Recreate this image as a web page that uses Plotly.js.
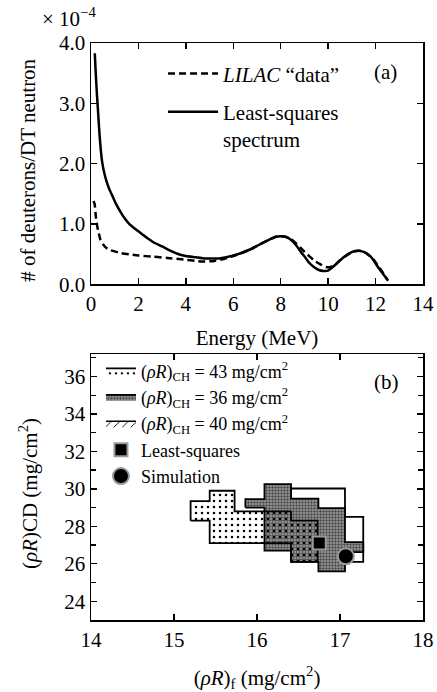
<!DOCTYPE html>
<html>
<head>
<meta charset="utf-8">
<script src="https://cdn.plot.ly/plotly-3.0.1.min.js"></script>
<style>html,body{margin:0;padding:0;background:#fff;}#chart{width:437px;height:692px;}</style>
</head>
<body>
<div id="chart"></div>
<script>
// ---------- Panel (a): deuteron spectra (units of 1e-4 per DT neutron) ----------
var lsqEnergy = [0.16,0.2,0.25,0.3,0.34,0.38,0.42,0.47,0.53,0.63,0.75,0.91,1.05,1.25,1.45,1.62,1.8,2.0,2.3,2.63,3.0,3.34,3.7,4.0,4.4,4.8,5.1,5.4,5.7,6.0,6.4,6.82,7.2,7.5,7.8,8.0,8.2,8.43,8.65,8.85,9.05,9.2,9.4,9.61,9.8,10.0,10.2,10.45,10.65,10.87,11.1,11.3,11.5,11.72,11.9,12.06,12.25,12.42,12.53];
var lsqValue  = [3.83,3.5,3.15,2.85,2.6,2.38,2.2,2.03,1.9,1.74,1.6,1.46,1.34,1.2,1.08,1.0,0.94,0.88,0.79,0.7,0.63,0.56,0.5,0.47,0.45,0.43,0.43,0.43,0.45,0.48,0.53,0.6,0.68,0.74,0.79,0.8,0.79,0.74,0.65,0.54,0.44,0.36,0.29,0.24,0.225,0.23,0.29,0.38,0.45,0.51,0.55,0.56,0.54,0.49,0.41,0.31,0.21,0.12,0.06];

var lilacEnergy = [0.1,0.15,0.21,0.26,0.31,0.4,0.5,0.63,0.8,1.26,1.6,2.0,2.6,3.22,4.0,4.4,4.8,5.2,5.6,6.0,6.4,6.82,7.2,7.5,7.8,8.0,8.2,8.43,8.65,8.93,9.2,9.47,9.7,9.9,10.1,10.3,10.5,10.7,10.9,11.1,11.3,11.5,11.7,11.9,12.1,12.3,12.5];
var lilacValue  = [1.38,1.34,1.1,0.97,0.88,0.74,0.67,0.61,0.57,0.52,0.5,0.48,0.46,0.44,0.41,0.39,0.38,0.39,0.42,0.47,0.53,0.6,0.68,0.74,0.79,0.8,0.79,0.75,0.68,0.57,0.47,0.38,0.33,0.29,0.29,0.33,0.4,0.46,0.51,0.55,0.56,0.54,0.49,0.42,0.31,0.2,0.08];

// ---------- Panel (b): allowed (rhoR)f / (rhoR)CD regions ----------
var region43X = [15.2,15.2,15.43,15.43,15.73,15.73,16.41,16.41,16.73,16.73,16.41,16.41,15.43,15.43,15.2];
var region43Y = [28.3,29.35,29.35,29.9,29.9,28.8,28.8,28.3,28.3,26.1,26.1,27.1,27.1,28.3,28.3];

var region36X = [15.86,15.86,16.09,16.09,16.41,16.41,16.74,16.74,17.06,17.06,17.28,17.28,17.06,17.06,16.74,16.74,16.41,16.41,16.09,16.09,15.86];
var region36Y = [29.0,29.45,29.45,30.25,30.25,29.48,29.48,28.97,28.97,27.16,27.16,26.62,26.62,25.6,25.6,26.1,26.1,26.7,26.7,29.0,29.0];

var region40X = [16.41,16.41,17.06,17.06,17.28,17.28,16.74,16.74,16.41];
var region40Y = [28.3,30.02,30.02,28.5,28.5,26.1,26.1,28.3,28.3];

var lsqPointX = [16.75], lsqPointY = [27.11];
var simPointX = [17.07], simPointY = [26.4];

var legendNames = [
  '(<i>ρR</i>)<sub>CH</sub> = 43 mg/cm<sup>2</sup>',
  '(<i>ρR</i>)<sub>CH</sub> = 36 mg/cm<sup>2</sup>',
  '(<i>ρR</i>)<sub>CH</sub> = 40 mg/cm<sup>2</sup>',
  'Least-squares',
  'Simulation'
];

var FONT = 'Liberation Serif';

var traces = [
  {x: lilacEnergy, y: lilacValue, xaxis:'x', yaxis:'y', mode:'lines', name:'<i>LILAC</i> “data”',
   line:{color:'black', width:2.5, dash:'7px,4px', shape:'spline', smoothing:0.5}, legend:'legend', legendgroup:'a1', legendrank:1},
  {x: lsqEnergy, y: lsqValue, xaxis:'x', yaxis:'y', mode:'lines', name:'Least-squares<br>spectrum',
   line:{color:'black', width:2.5, shape:'spline', smoothing:0.5}, legend:'legend', legendgroup:'a2', legendrank:2},

  {x: region40X, y: region40Y, xaxis:'x2', yaxis:'y2', mode:'lines', fill:'toself', fillcolor:'white',
   line:{color:'black', width:1.8}, showlegend:false, hoverinfo:'skip'},
  {x: region36X, y: region36Y, xaxis:'x2', yaxis:'y2', mode:'lines', fill:'toself', fillcolor:'#a4a4a4',
   fillpattern:{shape:'.', fgcolor:'#4a4a4a', bgcolor:'#a0a0a0', size:3, solidity:0.5},
   line:{color:'black', width:1.8}, name: legendNames[1], legend:'legend2', legendrank:2},
  {x: region43X, y: region43Y, xaxis:'x2', yaxis:'y2', mode:'lines', fill:'toself',
   fillpattern:{shape:'.', fgcolor:'black', bgcolor:'rgba(0,0,0,0)', size:6, solidity:0.14},
   line:{color:'black', width:1.8}, name: legendNames[0], legend:'legend2', legendrank:1},
  {x: [null], y: [null], xaxis:'x2', yaxis:'y2', mode:'lines', fill:'toself',
   fillpattern:{shape:'/', fgcolor:'black', bgcolor:'white', size:6, solidity:0.15},
   line:{color:'black', width:1.5}, name: legendNames[2], legend:'legend2', legendrank:3},
  {x: lsqPointX, y: lsqPointY, xaxis:'x2', yaxis:'y2', mode:'markers', name: legendNames[3],
   marker:{symbol:'square', size:13, color:'black', line:{color:'#9a9a9a', width:2}}, legend:'legend2', legendrank:4},
  {x: simPointX, y: simPointY, xaxis:'x2', yaxis:'y2', mode:'markers', name: legendNames[4],
   marker:{symbol:'circle', size:16, color:'black', line:{color:'#9a9a9a', width:2}}, legend:'legend2', legendrank:5}
];

var axisCommon = {
  showline:true, linecolor:'black', linewidth:1.5, mirror:'ticks', ticks:'inside', ticklen:6, tickwidth:1.3,
  tickcolor:'black', showgrid:false, zeroline:false, tickfont:{family:FONT, size:21, color:'black'}
};

var layout = {
  width:437, height:692,
  margin:{l:91, r:14, t:43, b:72},
  paper_bgcolor:'white', plot_bgcolor:'white',
  font:{family:FONT, size:21, color:'black'},
  xaxis: Object.assign({}, axisCommon, {domain:[0,1], anchor:'y', range:[0,14], dtick:2, tick0:0,
    title:{text:'Energy (MeV)', font:{family:FONT, size:21}, standoff:15}}),
  yaxis: Object.assign({}, axisCommon, {domain:[0.5815,1], anchor:'x', range:[0,4], dtick:1, tickformat:'.1f'}),
  xaxis2: Object.assign({}, axisCommon, {domain:[0,1], anchor:'y2', range:[14,18], dtick:1, tick0:14,
    title:{text:'(<i>ρR</i>)<sub>f</sub> (mg/cm<sup>2</sup>)', font:{family:FONT, size:21}, standoff:22}}),
  yaxis2: Object.assign({}, axisCommon, {domain:[0,0.461], anchor:'x2', range:[23,37.2], dtick:2, tick0:24,
    minor:{dtick:1, ticks:'inside', ticklen:5, tickcolor:'black', showgrid:false}}),
  legend:{x:0.217, y:0.982, xanchor:'left', yanchor:'top', bgcolor:'rgba(0,0,0,0)', borderwidth:0,
    font:{family:FONT, size:21}, itemwidth:50, traceorder:'grouped', tracegroupgap:8, valign:'top'},
  legend2:{x:0.03, y:0.464, xanchor:'left', yanchor:'top', bgcolor:'rgba(0,0,0,0)', borderwidth:0,
    font:{family:FONT, size:18}, itemwidth:30, tracegroupgap:0},
  annotations:[
    {xref:'paper', yref:'paper', x:-0.154, y:1.045, xanchor:'left', yanchor:'middle', showarrow:false,
     text:'× 10<sup>−4</sup>', font:{family:FONT, size:21}},
    {xref:'paper', yref:'paper', x:-0.19, y:0.78, xanchor:'center', yanchor:'middle', showarrow:false, textangle:-90,
     text:'# of deuterons/DT neutron', font:{family:FONT, size:21}},
    {xref:'paper', yref:'paper', x:-0.19, y:0.22, xanchor:'center', yanchor:'middle', showarrow:false, textangle:-90,
     text:'(<i>ρR</i>)CD (mg/cm<sup>2</sup>)', font:{family:FONT, size:21}},
    {xref:'paper', yref:'paper', x:0.886, y:0.9497, xanchor:'center', yanchor:'middle', showarrow:false,
     text:'(a)', font:{family:FONT, size:21}},
    {xref:'paper', yref:'paper', x:0.89, y:0.413, xanchor:'center', yanchor:'middle', showarrow:false,
     text:'(b)', font:{family:FONT, size:21}}
  ],
  showlegend:true
};

Plotly.newPlot('chart', traces, layout, {staticPlot:true, displayModeBar:false});
</script>
</body>
</html>
